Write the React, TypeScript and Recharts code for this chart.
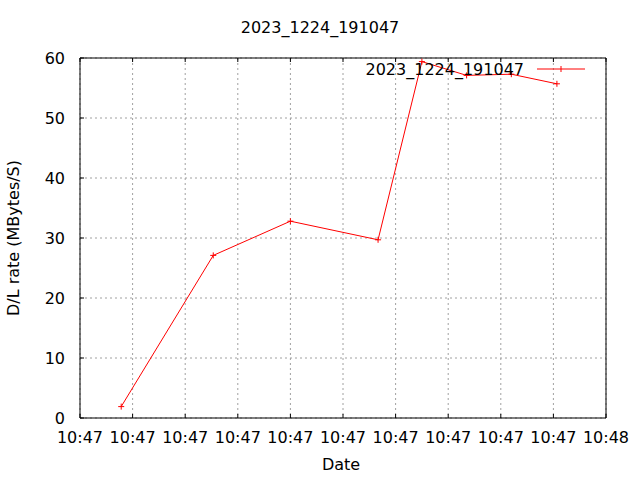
import { LineChart, Line, XAxis, YAxis, CartesianGrid, Legend } from 'recharts';

// seconds after 10:47:00
const seconds = [4.7, 15.2, 24.0, 34.0, 39.0, 44.1, 49.2, 54.4];
const rates = [1.9, 27.1, 32.8, 29.7, 59.4, 57.1, 57.3, 55.7];
const xTicks = [0, 6, 12, 18, 24, 30, 36, 42, 48, 54, 60];
const xTickLabels = ['10:47', '10:47', '10:47', '10:47', '10:47', '10:47', '10:47', '10:47', '10:47', '10:47', '10:48'];
const yTicks = [0, 10, 20, 30, 40, 50, 60];
const seriesName = '2023_1224_191047';

const data = seconds.map((s, i) => ({ t: s, rate: rates[i] }));

const font = '"DejaVu Sans", sans-serif';
const red = '#ff0000';

const Cross = (props: any) => {
    const { cx, cy, index } = props;
    if (cx == null || cy == null) return <g key={index}></g>;
    return (
        <path key={index} d={`M${cx - 3},${cy}H${cx + 3}M${cx},${cy - 3}V${cy + 3}`} stroke={red} strokeWidth={1} fill='none' />
    );
};

const LegendBox = () => (
    <div style={{ display: 'flex', justifyContent: 'flex-end', alignItems: 'center', height: 20, fontFamily: font, fontSize: 16, color: '#000' }}>
        <span>{seriesName}</span>
        <svg width={48} height={10} style={{ marginLeft: 13 }}>
            <line x1={0} y1={5} x2={48} y2={5} stroke={red} strokeWidth={1} />
            <path d='M24,2V8' stroke={red} strokeWidth={1} />
        </svg>
    </div>
);

export default function App() {
    const tickStyle = { fill: '#000', fontSize: 16, fontFamily: font };
    return (
        <div style={{ position: 'absolute', left: 0, top: 0, width: 640, height: 480, background: '#fff' }}>
            <LineChart width={640} height={480} data={data} margin={{ top: 57, right: 33, bottom: 32, left: 50 }}>
                <CartesianGrid stroke='#a0a0a0' strokeDasharray='2 3' />
                <XAxis
                    type='number'
                    dataKey='t'
                    domain={[0, 60]}
                    ticks={xTicks}
                    tickFormatter={(v: number) => xTickLabels[xTicks.indexOf(v)] ?? ''}
                    height={30}
                    stroke='#000'
                    tickSize={-4}
                    tickMargin={18}
                    tick={tickStyle}
                    interval={0}
                />
                <XAxis
                    xAxisId='top'
                    orientation='top'
                    type='number'
                    dataKey='t'
                    domain={[0, 60]}
                    ticks={xTicks}
                    tickFormatter={() => ''}
                    height={1}
                    stroke='#000'
                    tickSize={-4}
                    interval={0}
                />
                <YAxis
                    type='number'
                    domain={[0, 60]}
                    ticks={yTicks}
                    width={30}
                    stroke='#000'
                    tickSize={-4}
                    tickMargin={19}
                    tick={tickStyle}
                    interval={0}
                />
                <YAxis
                    yAxisId='right'
                    orientation='right'
                    type='number'
                    domain={[0, 60]}
                    ticks={yTicks}
                    tickFormatter={() => ''}
                    width={1}
                    stroke='#000'
                    tickSize={-4}
                    interval={0}
                />
                <Legend
                    layout='horizontal'
                    verticalAlign='middle'
                    align='center'
                    content={<LegendBox />}
                    wrapperStyle={{ position: 'absolute', top: 59, left: 355, width: 230, height: 20 }}
                />
                <Line
                    dataKey='rate'
                    name={seriesName}
                    type='linear'
                    stroke={red}
                    strokeWidth={1}
                    dot={Cross}
                    activeDot={false}
                    isAnimationActive={false}
                />
            </LineChart>
            <div style={{ position: 'absolute', left: 0, top: 18, width: 640, textAlign: 'center', lineHeight: '20px', fontFamily: font, fontSize: 16, color: '#000' }}>
                {seriesName}
            </div>
            <div style={{ position: 'absolute', left: 0, top: 455, width: 682, textAlign: 'center', lineHeight: '20px', fontFamily: font, fontSize: 16, color: '#000' }}>
                Date
            </div>
            <div style={{ position: 'absolute', left: 14, top: 238, width: 0, height: 0 }}>
                <div style={{ position: 'absolute', left: -150, top: -10, width: 300, textAlign: 'center', lineHeight: '20px', transform: 'rotate(-90deg)', fontFamily: font, fontSize: 16, color: '#000', whiteSpace: 'nowrap' }}>
                    D/L rate (MBytes/S)
                </div>
            </div>
        </div>
    );
}
